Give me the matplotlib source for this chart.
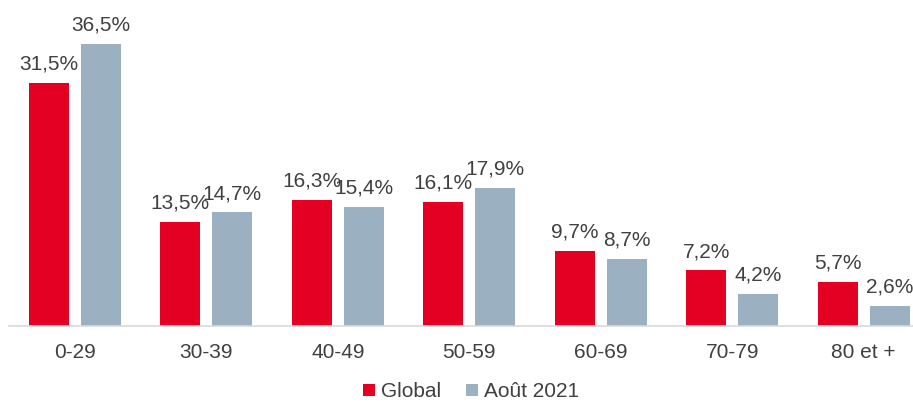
import numpy as np
import matplotlib
matplotlib.use('Agg')
import matplotlib.pyplot as plt

plt.rcParams['font.family'] = ['Liberation Sans', 'DejaVu Sans']

# data
categories = ['0-29', '30-39', '40-49', '50-59', '60-69', '70-79', '80 et +']
global_vals = [31.5, 13.5, 16.3, 16.1, 9.7, 7.2, 5.7]
aout_vals = [36.5, 14.7, 15.4, 17.9, 8.7, 4.2, 2.6]
series_names = ['Global', 'Août 2021']

red = '#E30022'
blue = '#9BB0C1'
txt = '#404040'

fig = plt.figure(figsize=(9.13, 4.03), dpi=100)
# axes run a little past the right edge, like the original
ax = fig.add_axes([0.010, 0.191, 1.008, 0.809])

x = np.arange(len(categories))
w = 0.304
off = 0.198
b1 = ax.bar(x - off, global_vals, w, color=red, label=series_names[0])
b2 = ax.bar(x + off, aout_vals, w, color=blue, label=series_names[1])

for bars, vals in ((b1, global_vals), (b2, aout_vals)):
    for r, v in zip(bars, vals):
        ax.annotate(f'{v:.1f}%'.replace('.', ','),
                    (r.get_x() + r.get_width() / 2, v),
                    xytext=(0, 9.5), textcoords='offset points',
                    ha='center', va='baseline', fontsize=15, color=txt)

ax.set_xlim(-0.5, len(categories) - 0.5)
ax.set_ylim(0, 42.2)
ax.set_xticks(x)
ax.set_xticklabels(categories, fontsize=15, color=txt)
ax.tick_params(axis='x', length=0, pad=12)
ax.set_yticks([])
for s in ['top', 'right', 'left']:
    ax.spines[s].set_visible(False)
ax.spines['bottom'].set_color('#D9D9D9')
ax.spines['bottom'].set_linewidth(1.2)

# legend sits right at the bottom edge, kept just inside the figure
fig.legend(handles=[b1, b2], labels=series_names, loc='lower center',
           bbox_to_anchor=(0.516, -0.042), ncol=2, frameon=False,
           fontsize=15, handlelength=0.55, handleheight=0.55,
           handletextpad=0.3, columnspacing=1.2, labelcolor=txt)

fig.savefig('out.png', dpi=100)
